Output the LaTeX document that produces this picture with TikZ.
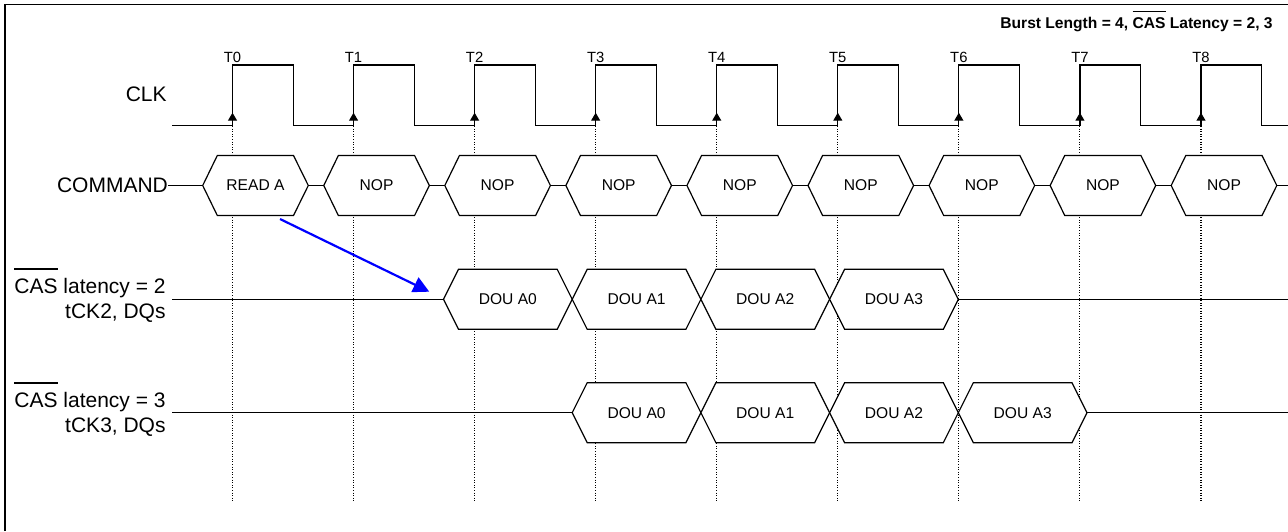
\documentclass[tikz,border=0pt]{standalone}
\usepackage{fontspec}
\setmainfont{Liberation Sans}
\usetikzlibrary{arrows.meta}
\newcommand{\clkper}{121.06}
\newcommand{\sigbar}[2][12pt]{\setbox0\hbox{#2}\rlap{\raisebox{#1}{\rule{\wd0}{0.6pt}}}#2}

\begin{document}
\begin{tikzpicture}[x=0.5pt, y=-0.5pt,
        sig/.style={line width=.6pt},
        tickline/.style={line width=.55pt, dash pattern=on .5pt off .8pt},
        hexcell/.style={line width=.6pt, fill=white},
        lbl/.style={inner sep=0pt, font=\fontsize{10.5}{12}\selectfont},
        celltext/.style={inner sep=0pt, font=\fontsize{7.8}{9}\selectfont},
        tlbl/.style={inner sep=0pt, font=\fontsize{7.4}{9}\selectfont}]
        \useasboundingbox (0,0) rectangle (1288,531);
        \draw[sig] (5,531) -- (5,4.7) -- (1288,4.7);
        \foreach \i in {0,...,8}
        \draw[tickline] ({232.5+\clkper*\i},126) -- ({232.5+\clkper*\i},501);
        \draw[sig] (172,125.7) foreach \i in {0,...,8} { -- ({232.5+\clkper*\i},125.7) -- ++(0,-60.7) -- ++(60.8,0) -- ++(0,60.7) } -- (1288,125.7);
        \foreach \i in {0,...,8} {
        \pgfmathsetmacro\tx{232.5+\clkper*\i}
        \draw[sig, -{Triangle[length=4pt,width=4.5pt]}] (\tx,121) -- (\tx,112.7);
        \node[tlbl, anchor=base] (t\i) at (\tx,62.3) {T\i};
        }
        \node[lbl, anchor=east] (clk) at (167,94.5) {CLK};
        \node[lbl, anchor=east] (cmd) at (168.3,185.5) {COMMAND};
        \draw[sig] (cmd.east) -- (1288,185.5);
        \foreach \i/\cmdtxt in {0/READ A, 1/NOP, 2/NOP, 3/NOP, 4/NOP, 5/NOP, 6/NOP, 7/NOP, 8/NOP} {
        \pgfmathsetmacro\tx{232.5+\clkper*\i}
        \draw[hexcell] (\tx-29.8,185.5) -- ++(14.6,-30) -- ++(76.2,0) -- ++(14.8,30) -- ++(-14.8,30) -- ++(-76.2,0) -- cycle;
        \node[celltext] (c\i) at (\tx+23,185.5) {\cmdtxt};
        }
        \node[lbl, anchor=base east] (cl2a) at (166,293.5) {\sigbar{CAS} latency = 2};
        \node[lbl, anchor=base east] (cl2b) at (166,318) {tCK2, DQs};
        \node[lbl, anchor=base east] (cl3a) at (166,407.5) {\sigbar{CAS} latency = 3};
        \node[lbl, anchor=base east] (cl3b) at (166,432.5) {tCK3, DQs};
        \coordinate (dq2in) at (172,299.3);
        \coordinate (dq3in) at (172,412.7);
        \draw[sig] (dq2in) -- (1288,299.3);
        \draw[sig] (dq3in) -- (1288,412.7);
        \foreach \j/\dtxt in {0/DOU A0, 1/DOU A1, 2/DOU A2, 3/DOU A3} {
        \pgfmathsetmacro\sx{443.5+128.7*\j}
        \draw[hexcell] (\sx,299.3) -- ++(15,-30) -- ++(98.7,0) -- ++(15,30) -- ++(-15,30) -- ++(-98.7,0) -- cycle;
        \node[celltext] (da\j) at (\sx+64.35,299.3) {\dtxt};
        \pgfmathsetmacro\sx{572.2+128.7*\j}
        \draw[hexcell] (\sx,412.7) -- ++(15,-30) -- ++(98.7,0) -- ++(15,30) -- ++(-15,30) -- ++(-98.7,0) -- cycle;
        \node[celltext] (db\j) at (\sx+64.35,412.7) {\dtxt};
        }
        \coordinate (rdA) at (280,219);
        \coordinate (dq0) at (429.3,291.7);
        \draw[blue, line width=1.1pt, -{Triangle[length=8pt,width=8pt]}] (rdA) -- (dq0);
        \node[inner sep=0pt, anchor=base east, font=\bfseries\fontsize{7.8}{9}\selectfont] (burst) at (1273,28.3) {Burst Length = 4, \sigbar[8pt]{CAS} Latency = 2, 3};
\end{tikzpicture}
\end{document}
